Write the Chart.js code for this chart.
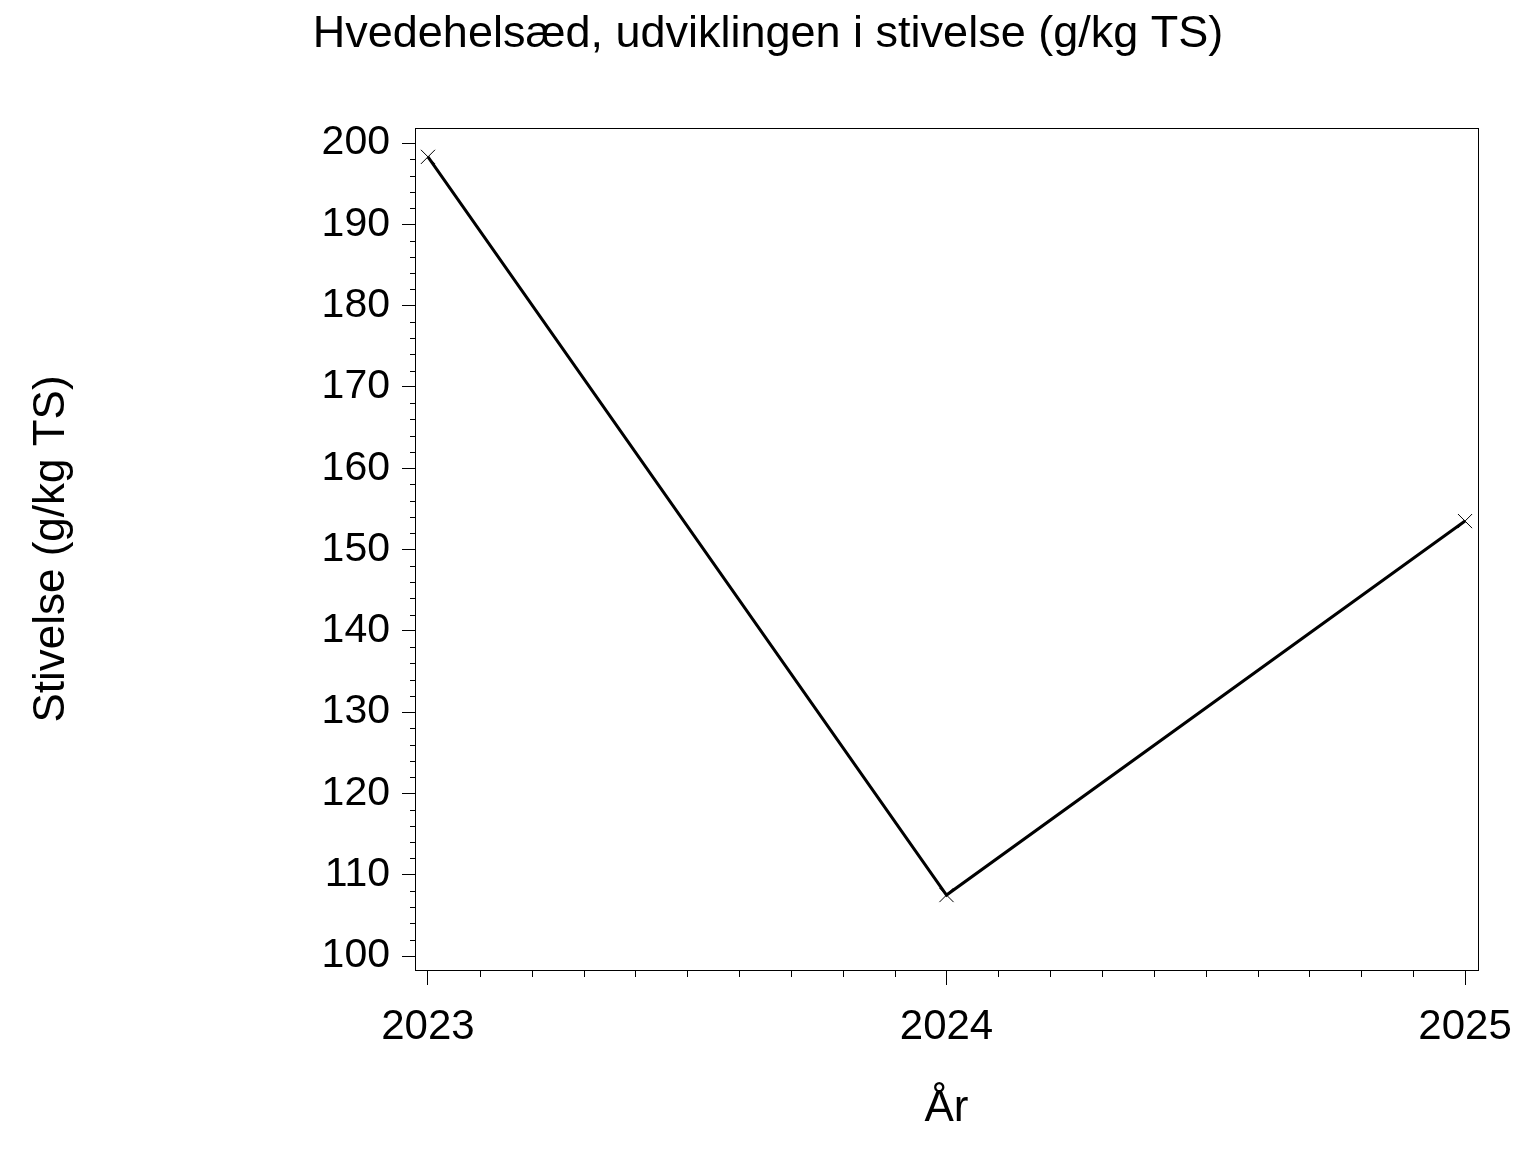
<!DOCTYPE html>
<html>
<head>
<meta charset="utf-8">
<script src="https://cdn.jsdelivr.net/npm/chart.js@4/dist/chart.umd.min.js"></script>
<style>
  html, body { margin: 0; padding: 0; background: #fff; }
</style>
</head>
<body>
<canvas id="visualization" width="1536" height="1152"></canvas>
<script>
// Values
var years = [2023, 2024, 2025];
var starch = [198.3, 107.5, 153.5];
var xTicks = [2023, 2024, 2025];
var yTicks = [100, 110, 120, 130, 140, 150, 160, 170, 180, 190, 200];

var FONT = "'Liberation Sans', Arial, sans-serif";

// Frame round the plot area and the small minor ticks on both axes
var frameAndMinorTicks = {
    id: 'frameAndMinorTicks',
    afterDraw: function(chart) {
        var ctx = chart.ctx;
        var a = chart.chartArea;
        var xs = chart.scales.x;
        var ys = chart.scales.y;
        ctx.save();
        ctx.strokeStyle = '#000';
        ctx.lineWidth = 1;
        ctx.strokeRect(Math.round(a.left) + 0.5, Math.round(a.top) + 0.5,
                       Math.round(a.right - a.left), Math.round(a.bottom - a.top));
        ctx.beginPath();
        for (var v = 100; v <= 200; v += 2) {
            if (v % 10 === 0) continue;
            var py = Math.round(ys.getPixelForValue(v)) + 0.5;
            ctx.moveTo(a.left - 5, py);
            ctx.lineTo(a.left, py);
        }
        for (var i = 0; i <= 20; i++) {
            if (i % 10 === 0) continue;
            var px = Math.round(xs.getPixelForValue(2023 + i / 10)) + 0.5;
            ctx.moveTo(px, a.bottom);
            ctx.lineTo(px, a.bottom + 7);
        }
        ctx.stroke();
        ctx.restore();
    }
};

var ctx = document.getElementById('visualization').getContext('2d');
var chart = new Chart(ctx, {
    type: 'line',
    data: {
        datasets: [{
            data: years.map(function(y, i) { return {x: y, y: starch[i]}; }),
            borderColor: '#000',
            borderWidth: 3,
            tension: 0,
            pointStyle: 'crossRot',
            pointRadius: 10,
            pointBorderWidth: 1,
            pointBorderColor: '#000',
            pointBackgroundColor: '#000'
        }]
    },
    options: {
        responsive: false,
        animation: false,
        layout: { padding: 0 },
        plugins: {
            legend: { display: false },
            tooltip: { enabled: false },
            title: {
                display: true,
                text: 'Hvedehelsæd, udviklingen i stivelse (g/kg TS)',
                color: '#000',
                font: { family: FONT, size: 45, weight: 'normal' },
                padding: { top: 8, bottom: 66 }
            }
        },
        scales: {
            x: {
                type: 'linear',
                min: 2022.975,
                max: 2025.025,
                afterBuildTicks: function(scale) {
                    scale.ticks = xTicks.map(function(v) { return {value: v}; });
                },
                afterFit: function(scale) { scale.height = 182; },
                grid: {
                    drawOnChartArea: false,
                    drawTicks: true,
                    tickLength: 15,
                    color: '#000',
                    tickColor: '#000'
                },
                border: { display: true, color: '#000', width: 1 },
                ticks: {
                    color: '#000',
                    font: { family: FONT, size: 42 },
                    padding: 17,
                    maxRotation: 0,
                    autoSkip: false,
                    callback: function(v) { return String(v); }
                },
                title: {
                    display: true,
                    text: 'År',
                    color: '#000',
                    font: { family: FONT, size: 44 },
                    padding: { top: 0, bottom: 17 }
                }
            },
            y: {
                min: 98.28,
                max: 201.85,
                afterBuildTicks: function(scale) {
                    scale.ticks = yTicks.map(function(v) { return {value: v}; });
                },
                afterFit: function(scale) { scale.width = 415; },
                grid: {
                    drawOnChartArea: false,
                    drawTicks: true,
                    tickLength: 13,
                    color: '#000',
                    tickColor: '#000'
                },
                border: { display: true, color: '#000', width: 1 },
                ticks: {
                    color: '#000',
                    font: { family: FONT, size: 41 },
                    padding: 12,
                    autoSkip: false
                },
                title: {
                    display: true,
                    text: 'Stivelse (g/kg TS)',
                    color: '#000',
                    font: { family: FONT, size: 44 },
                    padding: { top: 25, bottom: 0 }
                }
            },
            // empty right-hand margin so the title stays centred on the page
            yRight: {
                position: 'right',
                display: true,
                min: 0,
                max: 1,
                afterFit: function(scale) { scale.width = 58; },
                grid: { display: false, drawTicks: false },
                border: { display: false },
                ticks: { display: false }
            }
        }
    },
    plugins: [frameAndMinorTicks]
});
</script>
</body>
</html>
